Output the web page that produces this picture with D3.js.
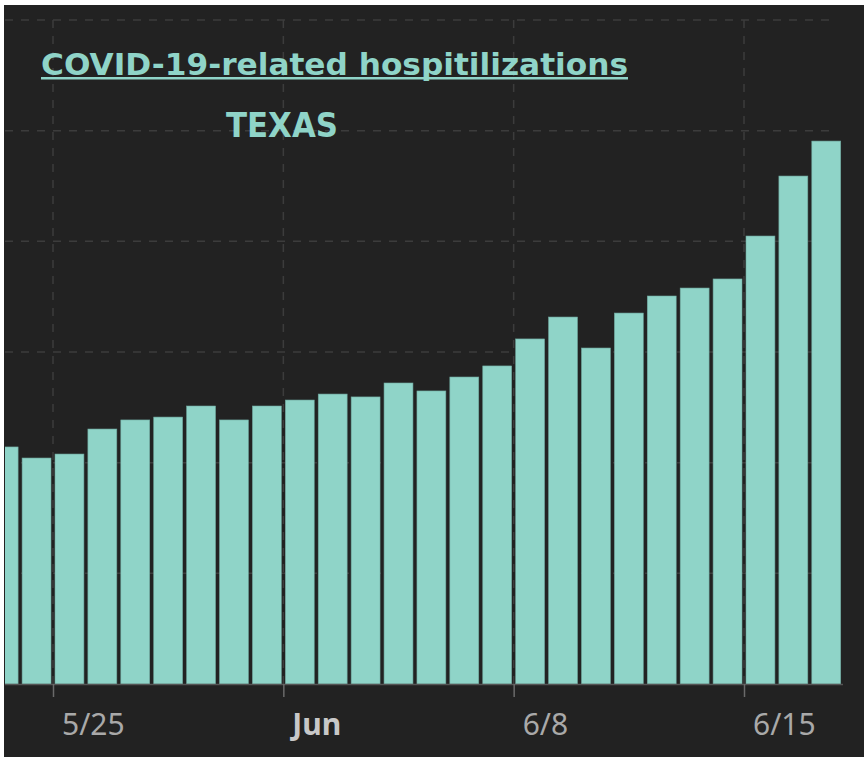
<!DOCTYPE html>
<html>
<head>
<meta charset="utf-8">
<script src="https://cdn.jsdelivr.net/npm/d3@7"></script>
<style>
  html, body { margin: 0; padding: 0; background: #fff; }
  svg { display: block; }
</style>
</head>
<body>
<svg id="chart" width="864" height="759"></svg>
<script>
// daily hospitalizations, 5/23 .. 6/17 (2020)
const days = ['2020-05-23','2020-05-24','2020-05-25','2020-05-26','2020-05-27','2020-05-28','2020-05-29',
  '2020-05-30','2020-05-31','2020-06-01','2020-06-02','2020-06-03','2020-06-04','2020-06-05','2020-06-06',
  '2020-06-07','2020-06-08','2020-06-09','2020-06-10','2020-06-11','2020-06-12','2020-06-13','2020-06-14',
  '2020-06-15','2020-06-16','2020-06-17'];
const hospitalized = [1071, 1021, 1039, 1152, 1193, 1206, 1256, 1193, 1256, 1283, 1310, 1297, 1360, 1324,
  1387, 1437, 1559, 1658, 1518, 1676, 1753, 1789, 1830, 2024, 2295, 2453];
const tickDays = ['2020-05-25', '2020-06-01', '2020-06-08', '2020-06-15'];
const tickLabels = ['5/25', 'Jun', '6/8', '6/15'];
const gridValues = [500, 1000, 1500, 2000, 2500, 3000];

const parse = d3.timeParse('%Y-%m-%d');
const data = days.map((d, i) => ({ date: parse(d), value: hospitalized[i] }));

const svg = d3.select('#chart');
const teal = '#8fd4c8';

// dark panel
svg.append('rect')
  .attr('x', 4).attr('y', 5).attr('width', 860).attr('height', 752)
  .attr('fill', '#222222');

const plotLeft = 5, plotRight = 843, plotTop = 20, plotBottom = 684;

const x = d3.scaleTime()
  .domain([parse('2020-05-25'), parse('2020-06-15')])
  .range([53, 744]);
const y = d3.scaleLinear().domain([0, 3000]).range([plotBottom, plotTop]);

svg.append('clipPath').attr('id', 'plot')
  .append('rect').attr('x', plotLeft).attr('y', 0).attr('width', plotRight - plotLeft).attr('height', plotBottom + 20);

// horizontal grid
svg.append('g')
  .selectAll('line')
  .data(gridValues)
  .join('line')
  .attr('x1', plotLeft).attr('x2', 836)
  .attr('y1', d => y(d)).attr('y2', d => y(d))
  .attr('stroke', '#3c3c3c').attr('stroke-width', 1.5)
  .attr('stroke-dasharray', '8 8');

// vertical grid
const ticks = tickDays.map(parse);
svg.append('g')
  .selectAll('line')
  .data(ticks)
  .join('line')
  .attr('x1', d => x(d)).attr('x2', d => x(d))
  .attr('y1', plotTop).attr('y2', plotBottom)
  .attr('stroke', '#3c3c3c').attr('stroke-width', 1.5)
  .attr('stroke-dasharray', '8 8');

// bars
svg.append('g')
  .attr('clip-path', 'url(#plot)')
  .selectAll('rect')
  .data(data)
  .join('rect')
  .attr('x', d => x(d.date) + 2)
  .attr('width', d => x(d3.timeDay.offset(d.date, 1)) - x(d.date) - 4)
  .attr('y', d => y(d.value))
  .attr('height', d => y(0) - y(d.value))
  .attr('fill', teal)
  .attr('stroke', '#6fa89f')
  .attr('stroke-width', 0.6);

// x axis
const axis = svg.append('g')
  .attr('transform', `translate(0,${plotBottom})`)
  .call(d3.axisBottom(x).tickValues(ticks).tickSize(13).tickFormat(''));
axis.select('.domain').attr('d', `M${plotLeft},0.5H${plotRight}`).attr('stroke', '#555').attr('stroke-width', 1.5);
axis.selectAll('.tick line').attr('stroke', '#6a6a6a').attr('stroke-width', 1.5);

svg.append('g')
  .selectAll('text')
  .data(ticks)
  .join('text')
  .attr('x', d => x(d) + 9)
  .attr('y', 735)
  .attr('font-family', '"Noto Sans", "Open Sans", sans-serif')
  .attr('font-size', 30)
  .attr('font-weight', (d, i) => tickLabels[i] === 'Jun' ? 'bold' : 'normal')
  .attr('fill', (d, i) => tickLabels[i] === 'Jun' ? '#c8c8c8' : '#a9a9a9')
  .text((d, i) => tickLabels[i]);

// titles
svg.append('text')
  .attr('x', 41).attr('y', 75)
  .attr('font-family', '"DejaVu Sans", sans-serif')
  .attr('font-weight', 'bold')
  .attr('font-size', 31)
  .attr('fill', teal)
  .attr('textLength', 587)
  .attr('lengthAdjust', 'spacingAndGlyphs')
  .text('COVID-19-related hospitilizations');

svg.append('rect')
  .attr('x', 41).attr('y', 77).attr('width', 587).attr('height', 2.5)
  .attr('fill', teal);

svg.append('text')
  .attr('x', 226).attr('y', 137)
  .attr('font-family', '"DejaVu Sans", sans-serif')
  .attr('font-weight', 'bold')
  .attr('font-size', 34)
  .attr('fill', teal)
  .attr('textLength', 112)
  .attr('lengthAdjust', 'spacingAndGlyphs')
  .text('TEXAS');
</script>
</body>
</html>
